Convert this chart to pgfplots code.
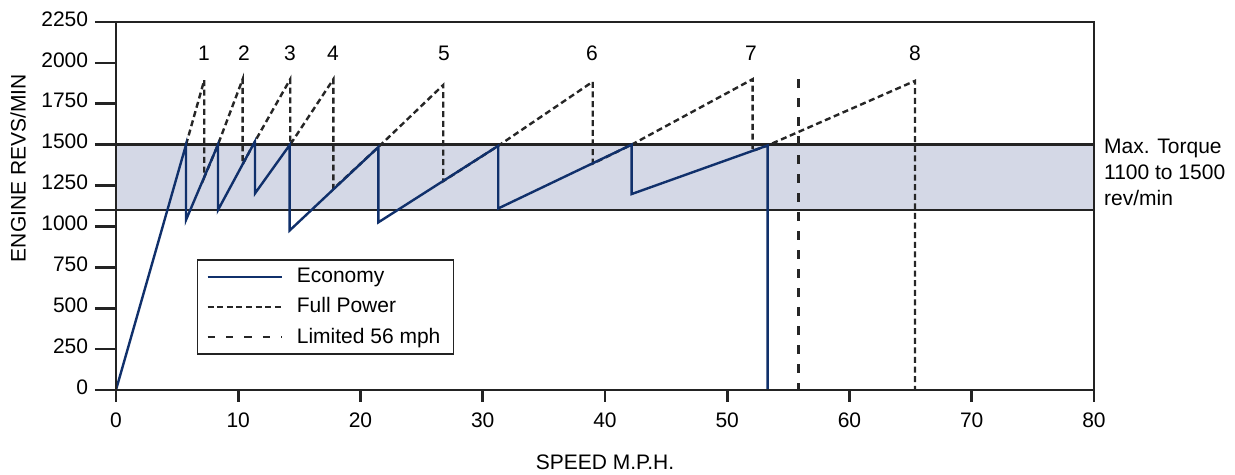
\documentclass[border=0pt]{standalone}
\usepackage{fontspec}
\setmainfont{Liberation Sans}
\usepackage{pgfplots}
\pgfplotsset{compat=1.18}
\definecolor{econ}{RGB}{16,48,107}
\definecolor{band}{RGB}{212,216,230}
\definecolor{axc}{RGB}{35,35,35}
\begin{document}
\fontsize{10.5}{13}\selectfont
\begin{tikzpicture}
\path[use as bounding box] (-58pt,-42.5pt) rectangle (559.5pt,195pt);
\begin{axis}[
  at={(0,0)}, anchor=south west,
  scale only axis, width=489pt, height=184pt,
  xmin=0, xmax=80, ymin=0, ymax=2250,
  xtick={0,10,...,80}, ytick={0,250,...,2250},
  extra y ticks={1100}, extra y tick labels={},
  tick align=outside, tick pos=left,
  xtick style={/pgfplots/major tick length=6pt, line width=1.3pt, color=axc},
  ytick style={/pgfplots/major tick length=10.5pt, line width=1.3pt, color=axc},
  extra y tick style={/pgfplots/major tick length=10.5pt, line width=1.3pt, color=axc},
  axis line style={line width=1.3pt, color=axc},
  /pgf/number format/assume math mode=true,
  /pgf/number format/1000 sep={},
  ticklabel style={font=\fontsize{10.5}{13}\selectfont, text=black},
  yticklabel style={yshift=1.5pt, xshift=-6pt},
  xticklabel style={yshift=-3.5pt},
  xlabel={SPEED M.P.H.}, ylabel={ENGINE REVS/MIN},
  label style={font=\fontsize{10.5}{13}\selectfont},
  xlabel style={at={(axis description cs:0.5,-0.1957)}, anchor=center},
  ylabel style={at={(axis description cs:-0.1002,0.603)}, anchor=center},
  clip=false, axis on top,
  legend style={at={(axis cs:6.6,800)}, anchor=north west, draw=axc, line width=0.8pt,
    font=\fontsize{10.5}{13}\selectfont, row sep=2pt, inner xsep=4.5pt, inner ysep=2pt,
    /tikz/every odd column/.append style={column sep=5pt}},
  legend cell align=left,
  legend image code/.code={\draw[#1] (0pt,0pt) -- (37pt,0pt);},
]
% torque band
\addplot[draw=none, fill=band, forget plot] coordinates {(0,1100) (80,1100) (80,1500) (0,1500)} -- cycle;
\addplot[axc, line width=1.3pt, forget plot] coordinates {(0,1500) (80,1500)};
\addplot[axc, line width=1.3pt, forget plot] coordinates {(0,1100) (80,1100)};
% full power
\addplot[black!85, line width=1.2pt, dash pattern=on 3pt off 1.8pt, forget plot] coordinates {
 (5.73,1500) (7.22,1895) (7.22,1300) (8.34,1500) (10.36,1900) (10.36,1380) (11.37,1520)
 (14.25,1900) (14.25,1500) (17.78,1900) (17.78,1230) (21.46,1485) (26.77,1865) (26.77,1277)
 (31.27,1493) (39.0,1885) (39.0,1384) (42.18,1500) (52.07,1900) (52.07,1462) (53.3,1495)
 (65.36,1890) (65.36,0)};
% limited 56 mph
\addplot[black!85, line width=1.4pt, dash pattern=on 4.2pt off 5.3pt, forget plot] coordinates {(55.8,1900) (55.8,0)};
% economy
\addplot[econ, line width=1.2pt, forget plot] coordinates {
 (0,0) (5.73,1500) (5.73,1040) (8.34,1500) (8.34,1100) (11.37,1520) (11.37,1202)
 (14.2,1497) (14.2,975) (21.46,1485) (21.46,1025) (31.27,1493) (31.27,1110)
 (42.18,1500) (42.18,1198) (53.3,1495) (53.3,0)};
\addlegendimage{econ, line width=1.2pt}
\addlegendentry{Economy}
\addlegendimage{black!85, line width=1.1pt, dash pattern=on 3pt off 1.8pt}
\addlegendentry{Full Power}
\addlegendimage{black!85, line width=1.2pt, dash pattern=on 3.7pt off 5.5pt}
\addlegendentry{Limited 56 mph}
% gear numbers
\node at (axis cs:7.2,2060) {1};
\node at (axis cs:10.47,2060) {2};
\node at (axis cs:14.23,2060) {3};
\node at (axis cs:17.75,2060) {4};
\node at (axis cs:26.83,2060) {5};
\node at (axis cs:38.94,2060) {6};
\node at (axis cs:51.94,2060) {7};
\node at (axis cs:65.36,2060) {8};
\node[anchor=west, align=left, font=\fontsize{10.5}{13}\selectfont, inner sep=0pt] at (axis cs:80.8,1330) {Max. Torque\\1100 to 1500\\rev/min};
\end{axis}
\end{tikzpicture}
\end{document}
